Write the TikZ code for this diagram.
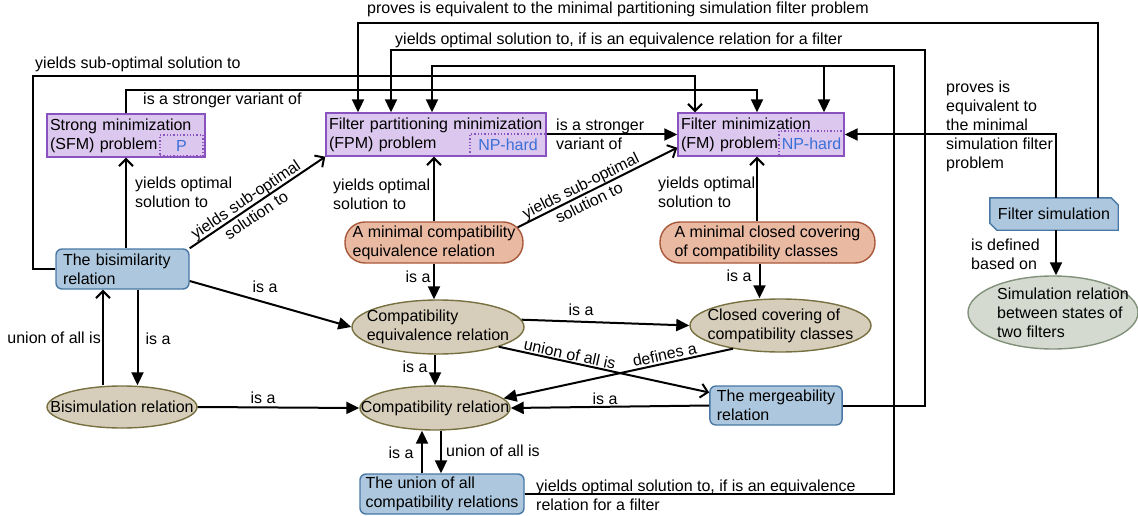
\documentclass[tikz,border=0pt]{standalone}
\usepackage{fontspec}
\setmainfont{Liberation Sans}
\usetikzlibrary{arrows.meta,shapes.geometric,backgrounds}

\definecolor{purfill}{HTML}{DCC8EE}
\definecolor{purline}{HTML}{8A52BE}
\definecolor{hardblue}{HTML}{3A6FD8}
\definecolor{bluefill}{HTML}{ADC8DE}
\definecolor{blueline}{HTML}{4878A5}
\definecolor{salfill}{HTML}{EAB9A2}
\definecolor{salline}{HTML}{A8583A}
\definecolor{tanfill}{HTML}{D6CEBA}
\definecolor{tanline}{HTML}{787040}
\definecolor{simfill}{HTML}{D4DAD0}
\definecolor{simline}{HTML}{82917A}

\tikzset{
  every node/.style={font=\fontsize{16}{19}\selectfont},
  prob/.style={draw=purline, fill=purfill, line width=1.4pt, inner xsep=3pt, inner ysep=0pt, minimum height=43pt, align=left},
  subbox/.style={draw=purline, dotted, line width=1.3pt, text=hardblue, inner sep=0pt},
  relbox/.style={draw=blueline, fill=bluefill, line width=1.4pt, rounded corners=6pt, inner xsep=7pt, inner ysep=0pt, align=left},
  pill/.style={draw=salline, fill=salfill, line width=1.4pt, rounded corners=20pt, inner sep=0pt, align=left},
  tanell/.style={ellipse, draw=tanline, fill=tanfill, line width=1.4pt, inner sep=0pt},
  lbl/.style={inner sep=0pt, align=left},
  con/.style={line width=2pt},
  blk/.style={con, -{Triangle[length=13pt,width=12pt]}},
  opn/.style={con, -{Straight Barb[length=7pt,width=14pt]}},
}

\begin{document}
\begin{tikzpicture}[x=1pt,y=-1pt]
\useasboundingbox (0,0) rectangle (1138,516);

% ---- minimisation problems ----
\node[prob, text width=152pt] (sfm) at (126,135.5) {Strong minimization\\(SFM) problem};
\node[subbox, minimum width=43pt, minimum height=21pt, anchor=south east] (sfmhard) at ([xshift=-2pt,yshift=1pt]sfm.south east) {P};
\node[prob, text width=214pt] (fpm) at (436,134.5) {Filter partitioning minimization\\(FPM) problem};
\node[subbox, minimum width=76pt, minimum height=22pt, anchor=south east] (fpmhard) at (fpm.south east) {NP-hard};
\node[prob, text width=160pt] (fm) at (761,134.5) {Filter minimization\\(FM) problem};
\node[subbox, minimum width=65pt, minimum height=25pt, anchor=south east] (fmhard) at (fm.south east) {NP-hard};

% ---- relations ----
\node[relbox, text width=119pt, minimum height=40pt] (bisim) at (122.5,269) {The bisimilarity\\relation};
\node[pill, minimum width=178pt, minimum height=41pt] (mincompat) at (434,242.5) {A minimal compatibility\\equivalence relation};
\node[pill, minimum width=215pt, minimum height=41pt] (minclosed) at (767.5,242.5) {A minimal closed covering\\of compatibility classes};

\node[tanell, minimum width=172pt, minimum height=54pt] (ceq) at (438,327) {};
\node[lbl] (ceqtext) at (ceq) {Compatibility\\equivalence relation};
\node[tanell, minimum width=181pt, minimum height=53pt] (ccov) at (780.5,325.5) {};
\node[lbl] (ccovtext) at (ccov) {Closed covering of\\compatibility classes};
\node[tanell, minimum width=150pt, minimum height=42pt] (bsim) at (122,407) {};
\node[lbl] (bsimtext) at (bsim) {Bisimulation relation};
\node[tanell, minimum width=150pt, minimum height=44pt] (crel) at (435,408) {};
\node[lbl] (creltext) at (crel) {Compatibility relation};

\node[relbox, minimum width=132pt, minimum height=39pt] (merge) at (776,405.5) {The mergeability\\relation};
\node[relbox, inner xsep=5pt, minimum width=164pt, minimum height=40pt] (union) at (442,494) {The union of all\\compatibility relations};

% ---- filter simulation ----
\node[inner sep=0pt, minimum width=128pt, minimum height=32pt] (fsim) at (1054,214) {Filter simulation};
\begin{pgfonlayer}{background}
\filldraw[fill=bluefill, draw=blueline, line width=1.4pt]
  (fsim.north west) -- ([xshift=-7pt]fsim.north east) -- ([yshift=-7pt]fsim.north east)
  -- (fsim.south east) -- ([xshift=7pt]fsim.south west) -- ([yshift=7pt]fsim.south west) -- cycle;
\end{pgfonlayer}
\node[ellipse, draw=simline, fill=simfill, line width=1.4pt, inner sep=0pt, minimum width=170pt, minimum height=73pt] (simrel) at (1053,312.5) {};
\node[lbl] (simreltext) at (1063,312.5) {Simulation relation\\between states of\\two filters};

% ---- helper points on node borders ----
\coordinate (fmA) at ([xshift=-66pt]fm.north);
\coordinate (fmB) at ([xshift=-4pt]fm.north);
\coordinate (fmC) at ([xshift=63pt]fm.north);
\coordinate (fmS) at ([xshift=-4pt]fm.south);
\coordinate (fpmA) at ([xshift=-78pt]fpm.north);
\coordinate (fpmB) at ([xshift=-45pt]fpm.north);
\coordinate (fpmC) at ([xshift=-4pt]fpm.north);
\coordinate (fsA) at ([xshift=2pt]fsim.north);
\coordinate (fsB) at ([xshift=44pt]fsim.north);
\coordinate (fsS) at ([xshift=2pt]fsim.south);
\coordinate (bxa) at ([xshift=15pt]bisim.south);
\coordinate (bxb) at ([xshift=-19.5pt]bisim.south);
\coordinate (mcx) at ([xshift=-8pt]minclosed.south);
\coordinate (uxa) at ([xshift=-20pt]union.north);
\coordinate (uxb) at ([xshift=-1pt]union.north);

% ---- connectors across the top ----
\draw[blk] (fsB) -- ++(0,-175) -| (fpmA);
\node[lbl, anchor=west] (lproves) at (367,9) {proves is equivalent to the minimal partitioning simulation filter problem};
\draw[blk] (merge.east) -- (925,405.5) -- (925,50) -| (fpmB);
\node[lbl, anchor=west] (lmerge) at (395,40) {yields optimal solution to, if is an equivalence relation for a filter};
\draw[blk] (union.east) -- (894,494) -- (894,66) -| (fpmC);
\draw[blk] (union.east) -- (894,494) -- (894,66) -| (fmC);
\node[lbl, anchor=west] (lunion) at (536,495.5) {yields optimal solution to, if is an equivalence\\relation for a filter};
\draw[opn] (bisim.west) -- ++(-22,0) -- ++(0,-193) -| (fmA);
\node[lbl, anchor=west] (lsub) at (35,64) {yields sub-optimal solution to};
\draw[blk] (sfm.north) -- ++(0,-23) -| (fmB);
\node[lbl, anchor=west] (lstrong) at (143,100) {is a stronger variant of};
\draw[blk] (fsA) |- (fm.east);
\node[lbl, anchor=west] (lsim) at (946,126) {proves is\\equivalent to\\the minimal\\simulation filter\\problem};

% ---- problem level ----
\draw[blk] (fpm.east) -- (fm.west);
\node[lbl, anchor=west] (lfpmfm) at (556,134) {is a stronger\\variant of};
\draw[opn] (bisim.north -| sfm.south) -- (sfm.south);
\node[lbl, anchor=west] (lbisfm) at (135,192.5) {yields optimal\\solution to};
\draw[opn] (bisim.north east) -- (fpm.south west)
  node[pos=0.45, sloped, align=center, inner sep=0pt] (lbifpm) {yields sub-optimal\\solution to};
\draw[opn] (mincompat.north) -- (mincompat.north |- fpm.south);
\node[lbl, anchor=west] (lmcfpm) at (333,194.5) {yields optimal\\solution to};
\draw[opn] ([xshift=-6pt,yshift=-6pt]mincompat.north east) -- ([yshift=9pt]fm.south west)
  node[pos=0.42, sloped, align=center, inner sep=0pt] (lmcfm) {yields sub-optimal\\solution to};
\draw[opn] (fmS |- minclosed.north) -- (fmS);
\node[lbl, anchor=west] (lmclfm) at (658,192.5) {yields optimal\\solution to};

% ---- relation level ----
\draw[blk] ([yshift=-12pt]bisim.east) -- (ceq.west);
\node[lbl] (lbiceq) at (265,287) {is a};
\draw[blk] (bxa) -- (bxa |- bsim.north);
\node[lbl] (lbibs) at (158,339) {is a};
\draw[opn] (bxb |- bsim.north) -- (bxb);
\node[lbl, anchor=east] (lbsbi) at (101,338) {union of all is};
\draw[blk] (bsim.east) -- (crel.west);
\node[lbl] (lbscr) at (263,398) {is a};
\draw[blk] (mincompat.south) -- (mincompat.south |- ceq.north);
\node[lbl] (lmcceq) at (418,277) {is a};
\draw[blk] (mcx) -- (mcx |- ccov.north);
\node[lbl] (lmclcc) at (739,276) {is a};
\draw[blk] (ceq.5) -- (ccov.west);
\node[lbl] (lceqcc) at (581,310) {is a};
\draw[opn] (ceq.-18) -- ([yshift=13pt]merge.west)
  node[pos=0.33, sloped, above=1pt, inner sep=0pt] (lceqme) {union of all is};
\draw[blk] (ccov.206) -- (crel.8)
  node[pos=0.29, sloped, above=2pt, inner sep=0pt] (lcccr) {defines a};
\draw[blk] (crel.north |- ceq.south) -- (crel.north);
\node[lbl] (lceqcr) at (415,367) {is a};
\draw[blk] (merge.west) -- (crel.east);
\node[lbl] (lmecr) at (605,399) {is a};
\draw[blk] (uxa) -- (uxa |- crel.south);
\node[lbl] (luncr) at (401,453) {is a};
\draw[blk] (uxb |- crel.south) -- (uxb);
\node[lbl, anchor=west] (lcrun) at (446,451) {union of all is};
\draw[blk] (fsS) -- (fsS |- simrel.north);
\node[lbl, anchor=west] (lfssr) at (971,254) {is defined\\based on};

\end{tikzpicture}
\end{document}
